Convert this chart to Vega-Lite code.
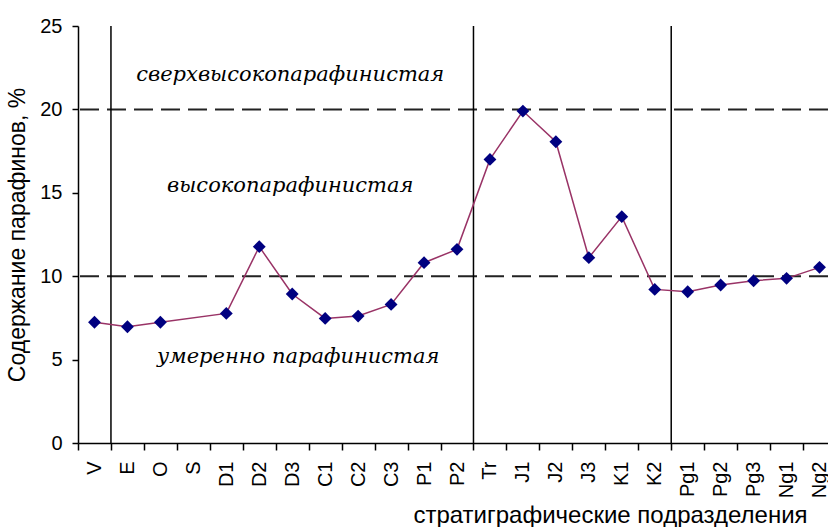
{
  "$schema": "https://vega.github.io/schema/vega-lite/v6.json",
  "autosize": {"type": "none"},
  "padding": {"left": 78, "top": 26, "right": 0, "bottom": 84},
  "width": 750,
  "height": 417,
  "background": "white",
  "config": {
    "view": {"stroke": null},
    "axis": {"labelFont": "Liberation Sans", "titleFont": "Liberation Sans", "labelColor": "black", "titleColor": "black", "domainColor": "black", "tickColor": "black", "grid": false, "titleFontWeight": "normal"}
  },
  "datasets": {
    "series": [
      {"cat": "V", "value": 7.24},
      {"cat": "E", "value": 6.97},
      {"cat": "O", "value": 7.24},
      {"cat": "D1", "value": 7.77},
      {"cat": "D2", "value": 11.77},
      {"cat": "D3", "value": 8.93},
      {"cat": "C1", "value": 7.47},
      {"cat": "C2", "value": 7.61},
      {"cat": "C3", "value": 8.31},
      {"cat": "P1", "value": 10.81},
      {"cat": "P2", "value": 11.61},
      {"cat": "Tr", "value": 17.0},
      {"cat": "J1", "value": 19.9},
      {"cat": "J2", "value": 18.06},
      {"cat": "J3", "value": 11.11},
      {"cat": "K1", "value": 13.57},
      {"cat": "K2", "value": 9.21},
      {"cat": "Pg1", "value": 9.07},
      {"cat": "Pg2", "value": 9.47},
      {"cat": "Pg3", "value": 9.73},
      {"cat": "Ng1", "value": 9.87},
      {"cat": "Ng2", "value": 10.53}
    ],
    "levels": [{"level": 10}, {"level": 20}],
    "bounds": [{"cat": "E"}, {"cat": "Tr"}, {"cat": "Pg1"}],
    "zones": [
      {"label": "сверхвысокопарафинистая", "cat": "D3", "level": 22.06},
      {"label": "высокопарафинистая", "cat": "D3", "level": 15.41}
    ],
    "zones2": [
      {"label": "умеренно парафинистая", "cat": "D3", "level": 5.16}
    ]
  },
  "encoding": {
    "x": {
      "field": "cat", "type": "nominal",
      "scale": {
        "domain": ["V","E","O","S","D1","D2","D3","C1","C2","C3","P1","P2","Tr","J1","J2","J3","K1","K2","Pg1","Pg2","Pg3","Ng1","Ng2"],
        "range": [0, 758],
        "paddingInner": 0, "paddingOuter": 0
      },
      "axis": {
        "title": "стратиграфические подразделения",
        "titleFontSize": 24,
        "titleX": 532, "titleY": 72, "titleAlign": "center", "titleBaseline": "middle", "titleAnchor": null,
        "labelAngle": -90, "labelFontSize": 20, "labelPadding": 11, "tickSize": 7,
        "tickBand": "extent", "domainWidth": 1.5, "tickWidth": 1.5, "labelAlign": "right", "labelBaseline": "middle"
      }
    }
  },
  "layer": [
    {
      "data": {"name": "levels"},
      "mark": {"type": "rule", "color": "#222", "strokeWidth": 2, "strokeDash": [19, 8]},
      "encoding": {"x": null, "y": {"field": "level", "type": "quantitative", "scale": {"domain": [0, 25]}}}
    },
    {
      "data": {"name": "bounds"},
      "mark": {"type": "rule", "color": "black", "strokeWidth": 1.5},
      "encoding": {"x": {"field": "cat", "type": "nominal", "bandPosition": 0}}
    },
    {
      "data": {"name": "series"},
      "mark": {"type": "line", "color": "#993366", "strokeWidth": 1.5},
      "encoding": {
        "y": {
          "field": "value", "type": "quantitative",
          "scale": {"domain": [0, 25], "nice": false, "zero": true},
          "axis": {
            "title": "Содержание парафинов, %", "titleFontSize": 23, "titlePadding": 10,
            "values": [0, 5, 10, 15, 20, 25], "labelFontSize": 20, "labelPadding": 10, "tickSize": 6,
            "domainWidth": 1.5, "tickWidth": 1.5
          }
        }
      }
    },
    {
      "data": {"name": "series"},
      "mark": {"type": "point", "shape": "diamond", "filled": true, "color": "#000080", "size": 165, "opacity": 1},
      "encoding": {"y": {"field": "value", "type": "quantitative"}}
    },
    {
      "data": {"name": "zones"},
      "mark": {"type": "text", "font": "DejaVu Serif", "fontStyle": "italic", "fontSize": 21, "color": "black", "align": "center", "baseline": "middle", "dx": -2},
      "encoding": {"y": {"field": "level", "type": "quantitative"}, "text": {"field": "label"}}
    },
    {
      "data": {"name": "zones2"},
      "mark": {"type": "text", "font": "DejaVu Serif", "fontStyle": "italic", "fontSize": 21, "color": "black", "align": "center", "baseline": "middle", "dx": 6},
      "encoding": {"y": {"field": "level", "type": "quantitative"}, "text": {"field": "label"}}
    }
  ]
}
